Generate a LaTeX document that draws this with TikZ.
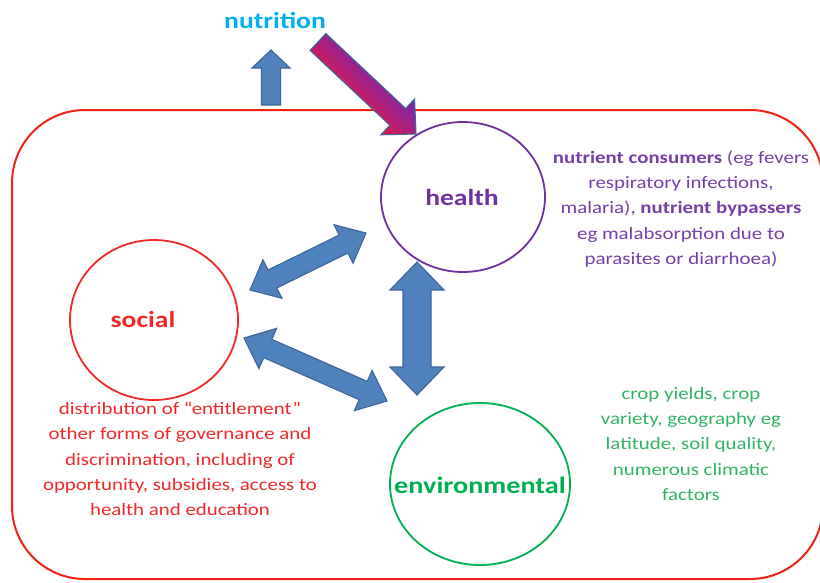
\documentclass[tikz,border=0pt]{standalone}
\usepackage{fontspec}
\setmainfont{Carlito}[FakeStretch=1.2]
\usetikzlibrary{calc,shapes.geometric}
\definecolor{boxred}{RGB}{238,34,22}
\definecolor{socred}{RGB}{240,40,40}
\definecolor{hpurple}{RGB}{112,48,160}
\definecolor{hpurple2}{RGB}{118,62,168}
\definecolor{egreen}{RGB}{0,176,80}
\definecolor{egreen2}{RGB}{50,180,100}
\definecolor{ncyan}{RGB}{0,176,240}
\definecolor{bfill}{RGB}{79,129,189}
\definecolor{bline}{RGB}{62,102,152}
\definecolor{mred}{RGB}{232,24,70}
\definecolor{mpurple}{RGB}{112,40,180}
\pgfdeclareverticalshading{magshade}{100bp}{color(0bp)=(mred); color(38bp)=(mred); color(62bp)=(mpurple); color(100bp)=(mpurple)}
\newcommand\blkdbl[6][]{%
\path[blockarrow,#1] (#2) -- ($(#2)!#6!(#3)!#5!90:(#3)$) -- ($(#2)!#6!(#3)!#4!90:(#3)$)
 -- ($(#3)!#6!(#2)!#4!-90:(#2)$) -- ($(#3)!#6!(#2)!#5!-90:(#2)$) -- (#3)
 -- ($(#3)!#6!(#2)!#5!90:(#2)$) -- ($(#3)!#6!(#2)!#4!90:(#2)$)
 -- ($(#2)!#6!(#3)!#4!-90:(#3)$) -- ($(#2)!#6!(#3)!#5!-90:(#3)$) -- cycle;}
\newcommand\blksgl[6][]{%
\path[blockarrow,#1] ($(#2)!#4!90:(#3)$) -- ($(#3)!#6!(#2)!#4!-90:(#2)$)
 -- ($(#3)!#6!(#2)!#5!-90:(#2)$) -- (#3) -- ($(#3)!#6!(#2)!#5!90:(#2)$)
 -- ($(#3)!#6!(#2)!#4!90:(#2)$) -- ($(#2)!#4!-90:(#3)$) -- cycle;}
\tikzset{
 blockarrow/.style={fill=bfill,draw=bline,line width=1.1pt,line join=miter},
 circ/.style={ellipse,line width=1.8pt,inner sep=0pt},
 title/.style={font=\fontsize{23}{27}\selectfont\bfseries},
 desc/.style={align=center,font=\fontsize{17.4}{25.3}\selectfont,inner sep=0pt},
}
\begin{document}
\begin{tikzpicture}[x=1pt,y=-1pt]
\useasboundingbox (0,0) rectangle (820,582);
% frame
\draw[boxred,line width=2pt,rounded corners=73pt] (12,110) rectangle (823,579);
% circles
\node[circ,draw=hpurple,minimum width=164pt,minimum height=150pt] (health) at (463,197) {};
\node[circ,draw=socred,minimum width=168pt,minimum height=160pt] (social) at (154,320) {};
\node[circ,draw=egreen,minimum width=180pt,minimum height=162pt] (env) at (480,484) {};
% titles
\node[title,text=ncyan] (nutri) at (275,20) {nutrition};
\node[title,text=hpurple] (healthT) at (462,198) {health};
\node[title,text=socred] (socialT) at (143,320) {social};
\node[title,text=egreen,font=\fontsize{23.5}{28}\selectfont\bfseries] (envT) at (480,485) {environmental};
% descriptions
\node[desc,text=hpurple2] (hdesc) at (681,209) {\textbf{nutrient consumers} (eg fevers\\respiratory infections,\\malaria), \textbf{nutrient bypassers}\\eg malabsorption due to\\parasites or diarrhoea)};
\node[desc,text=socred] (sdesc) at (180,459) {distribution of “entitlement”\\other forms of governance and\\discrimination, including of\\opportunity, subsidies, access to\\health and education};
\node[desc,text=egreen2] (edesc) at (691,444) {crop yields, crop\\variety, geography eg\\latitude, soil quality,\\numerous climatic\\factors};
% arrow end points
\coordinate (upT) at (271,105);
\coordinate (upH) at (271,50);
\coordinate (mT) at (318,42);
\coordinate (mH) at (416,134);
\coordinate (hs1) at (250,290);
\coordinate (hs2) at (366,233);
\coordinate (he1) at (417,262);
\coordinate (he2) at (417,395);
\coordinate (se1) at (244,338);
\coordinate (se2) at (387,401);
% arrows
\blksgl{upT}{upH}{9.5pt}{19pt}{18pt}
\blksgl[shading=magshade,shading angle=-45,draw=bline]{mT}{mH}{11.5pt}{24.5pt}{25pt}
\blkdbl{hs1}{hs2}{10pt}{21.5pt}{25pt}
\blkdbl{he1}{he2}{14pt}{27pt}{28pt}
\blkdbl{se1}{se2}{10pt}{22pt}{26pt}
\end{tikzpicture}
\end{document}
